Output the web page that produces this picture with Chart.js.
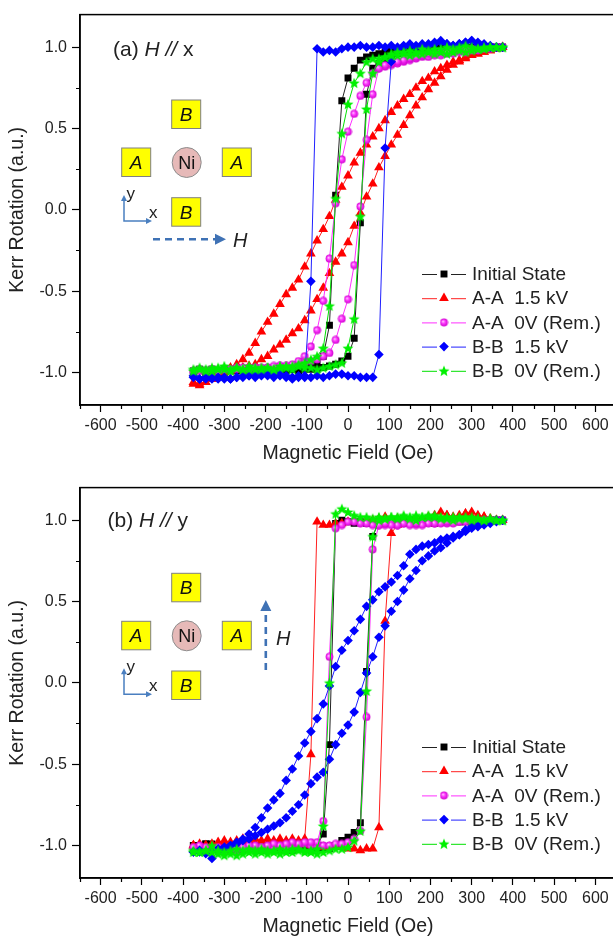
<!DOCTYPE html>
<html>
<head>
<meta charset="utf-8">
<script src="https://cdn.jsdelivr.net/npm/chart.js@4.4.1/dist/chart.umd.min.js"></script>
<style>
html, body { margin: 0; padding: 0; background: #fff; overflow: hidden; width: 613px; height: 943px; }
.panel { position: absolute; left: 0; width: 640px; height: 470px; }
#overlay { position: absolute; left: 0; top: 0; }
</style>
</head>
<body>
<div class="panel" style="top:0"><canvas id="chartA" width="640" height="470"></canvas></div>
<div class="panel" style="top:473px"><canvas id="chartB" width="640" height="470"></canvas></div>

<svg id="overlay" width="613" height="943" font-family="Liberation Sans, Arial, sans-serif">
  <!-- panel (a) schematic -->
  <text x="113" y="55.5" font-size="21" fill="#222">(a) <tspan font-style="italic">H //</tspan> x</text>
  <rect x="171.7" y="100" width="29" height="28.5" fill="#ffff00" stroke="#808080" stroke-width="1"/>
  <text x="186.2" y="121" font-size="19" font-style="italic" text-anchor="middle" fill="#111">B</text>
  <rect x="121.7" y="148" width="29" height="28.5" fill="#ffff00" stroke="#808080" stroke-width="1"/>
  <text x="136.2" y="169" font-size="19" font-style="italic" text-anchor="middle" fill="#111">A</text>
  <ellipse cx="186.7" cy="162.5" rx="14.5" ry="15" fill="#e6b9b8" stroke="#8c8c8c" stroke-width="1"/>
  <text x="186.7" y="169" font-size="18" text-anchor="middle" fill="#111">Ni</text>
  <rect x="222.3" y="148" width="29" height="28.5" fill="#ffff00" stroke="#808080" stroke-width="1"/>
  <text x="236.8" y="169" font-size="19" font-style="italic" text-anchor="middle" fill="#111">A</text>
  <rect x="171.7" y="197.7" width="29" height="28.5" fill="#ffff00" stroke="#808080" stroke-width="1"/>
  <text x="186.2" y="218.7" font-size="19" font-style="italic" text-anchor="middle" fill="#111">B</text>
  <polyline points="124,200 124,221 146,221" fill="none" stroke="#4a7fc0" stroke-width="1.5"/>
  <polygon points="121,201 124,195 127,201" fill="#4a7fc0"/>
  <polygon points="146,218 152,221 146,224" fill="#4a7fc0"/>
  <text x="126.5" y="199" font-size="17" fill="#222">y</text>
  <text x="149" y="218" font-size="17" fill="#222">x</text>
  <line x1="153" y1="239.3" x2="216" y2="239.3" stroke="#3f72b5" stroke-width="2.6" stroke-dasharray="7 5"/>
  <polygon points="215,233.8 226,239.3 215,244.8" fill="#3f72b5"/>
  <text x="233" y="246.7" font-size="20" font-style="italic" fill="#222">H</text>

  <!-- panel (b) schematic -->
  <text x="107.5" y="527" font-size="21" fill="#222">(b) <tspan font-style="italic">H //</tspan> y</text>
  <rect x="171.7" y="573.3" width="29" height="28.5" fill="#ffff00" stroke="#808080" stroke-width="1"/>
  <text x="186.2" y="594.3" font-size="19" font-style="italic" text-anchor="middle" fill="#111">B</text>
  <rect x="121.7" y="621.3" width="29" height="28.5" fill="#ffff00" stroke="#808080" stroke-width="1"/>
  <text x="136.2" y="642.3" font-size="19" font-style="italic" text-anchor="middle" fill="#111">A</text>
  <ellipse cx="186.7" cy="635.8" rx="14.5" ry="15" fill="#e6b9b8" stroke="#8c8c8c" stroke-width="1"/>
  <text x="186.7" y="642.3" font-size="18" text-anchor="middle" fill="#111">Ni</text>
  <rect x="222.3" y="621.3" width="29" height="28.5" fill="#ffff00" stroke="#808080" stroke-width="1"/>
  <text x="236.8" y="642.3" font-size="19" font-style="italic" text-anchor="middle" fill="#111">A</text>
  <rect x="171.7" y="671" width="29" height="28.5" fill="#ffff00" stroke="#808080" stroke-width="1"/>
  <text x="186.2" y="692" font-size="19" font-style="italic" text-anchor="middle" fill="#111">B</text>
  <polyline points="124,673.3 124,694.3 146,694.3" fill="none" stroke="#4a7fc0" stroke-width="1.5"/>
  <polygon points="121,674.3 124,668.3 127,674.3" fill="#4a7fc0"/>
  <polygon points="146,691.3 152,694.3 146,697.3" fill="#4a7fc0"/>
  <text x="126.5" y="672.3" font-size="17" fill="#222">y</text>
  <text x="149" y="691.3" font-size="17" fill="#222">x</text>
  <line x1="265.8" y1="670" x2="265.8" y2="610" stroke="#3f72b5" stroke-width="2.6" stroke-dasharray="7 5"/>
  <polygon points="260.3,611 265.8,600 271.3,611" fill="#3f72b5"/>
  <text x="276" y="645" font-size="20" font-style="italic" fill="#222">H</text>
</svg>

<script>
// applied field grid (Oe), shared by every branch
const field = [-375,-360,-345,-330,-315,-300,-285,-270,-255,-240,
  -225,-210,-195,-180,-165,-150,-135,-120,-105,-90,
  -75,-60,-45,-30,-15,0,15,30,45,60,
  75,90,105,120,135,150,165,180,195,210,
  225,240,255,270,285,300,315,330,345,360,375];

const seriesNames = ['Initial State', 'A-A  1.5 kV', 'A-A  0V (Rem.)', 'B-B  1.5 kV', 'B-B  0V (Rem.)'];

const xTicks = [-600,-500,-400,-300,-200,-100,0,100,200,300,400,500,600];
const xMinorTicks = [-650,-550,-450,-350,-250,-150,-50,50,150,250,350,450,550,650];
const yTicks = [-1.0,-0.5,0.0,0.5,1.0];
const yMinorTicks = [-0.75,-0.25,0.25,0.75];

// ---- panel (a) H // x : "up" = field sweeping up, "down" = field sweeping down (both listed along field[])
const aInitialUp = [-0.99,-0.98,-0.99,-0.98,-0.99,-0.98,-0.99,-0.98,-0.98,-0.99,
  -0.98,-0.99,-0.98,-0.98,-0.99,-0.98,-0.98,-0.99,-0.98,-0.98,
  -0.98,-0.97,-0.96,-0.95,-0.93,-0.90,-0.79,-0.08,0.71,0.87,
  0.90,0.93,0.95,0.96,0.97,0.98,0.98,0.99,0.99,0.99,
  0.99,1.00,0.99,1.00,1.00,0.99,1.00,1.00,1.00,1.00,1.00];
const aInitialDown = [-1.00,-0.99,-1.00,-0.99,-0.99,-1.00,-0.99,-0.99,-0.98,-0.99,
  -0.99,-0.98,-0.99,-0.98,-0.98,-0.99,-0.98,-0.98,-0.97,-0.97,
  -0.95,-0.90,-0.71,0.09,0.67,0.81,0.87,0.92,0.94,0.95,
  0.96,0.97,0.98,0.98,0.99,0.99,0.99,1.00,0.99,1.00,
  1.00,1.00,0.99,1.00,1.00,1.00,0.99,1.00,1.00,1.00,1.00];
const aAA15Up = [-1.06,-1.07,-1.06,-1.04,-1.02,-1.00,-0.99,-0.98,-0.97,-0.96,
  -0.95,-0.92,-0.90,-0.86,-0.83,-0.80,-0.76,-0.73,-0.68,-0.62,
  -0.55,-0.48,-0.39,-0.32,-0.27,-0.20,-0.10,-0.02,0.08,0.16,
  0.26,0.33,0.40,0.46,0.52,0.58,0.64,0.69,0.74,0.78,
  0.82,0.86,0.89,0.91,0.93,0.95,0.96,0.97,0.98,0.99,1.00];
const aAA15Down = [-1.07,-1.08,-1.06,-1.04,-1.02,-0.99,-0.97,-0.95,-0.92,-0.88,
  -0.82,-0.75,-0.69,-0.64,-0.58,-0.52,-0.48,-0.43,-0.35,-0.27,
  -0.19,-0.12,-0.04,0.06,0.14,0.21,0.29,0.35,0.40,0.45,
  0.50,0.55,0.60,0.64,0.68,0.71,0.75,0.79,0.81,0.85,
  0.87,0.89,0.91,0.92,0.94,0.95,0.96,0.97,0.98,0.99,1.00];
const aAA0Up = [-0.99,-0.98,-0.99,-0.98,-0.99,-0.98,-0.98,-0.97,-0.98,-0.97,
  -0.97,-0.98,-0.97,-0.97,-0.96,-0.96,-0.96,-0.95,-0.94,-0.93,
  -0.92,-0.90,-0.88,-0.80,-0.67,-0.55,-0.34,0.02,0.43,0.71,
  0.87,0.88,0.89,0.90,0.91,0.92,0.93,0.94,0.94,0.95,
  0.95,0.96,0.96,0.97,0.97,0.98,0.98,0.99,0.99,1.00,1.00];
const aAA0Down = [-1.00,-0.99,-0.99,-0.98,-0.99,-0.98,-0.98,-0.98,-0.97,-0.98,
  -0.97,-0.97,-0.97,-0.96,-0.96,-0.96,-0.95,-0.93,-0.90,-0.84,
  -0.74,-0.56,-0.30,0.04,0.31,0.48,0.59,0.70,0.78,0.84,
  0.87,0.89,0.90,0.91,0.92,0.93,0.94,0.95,0.96,0.96,
  0.97,0.97,0.98,0.98,0.99,0.99,0.99,1.00,1.00,1.00,1.00];
const aBB15Up = [-1.02,-1.04,-1.03,-1.04,-1.03,-1.04,-1.04,-1.03,-1.02,-1.02,
  -1.01,-1.00,-1.01,-1.00,-1.01,-1.02,-1.03,-1.02,-1.02,-1.03,
  -1.02,-1.03,-1.02,-1.01,-1.01,-1.02,-1.02,-1.03,-1.03,-1.03,
  -0.89,0.38,0.91,0.99,1.00,1.01,1.00,1.02,1.01,1.02,
  1.03,1.02,1.01,1.02,1.03,1.04,1.02,1.01,1.00,1.00,1.00];
const aBB15Down = [-1.03,-1.04,-1.04,-1.03,-1.04,-1.03,-1.04,-1.03,-1.03,-1.02,
  -1.03,-1.02,-1.02,-1.03,-1.02,-1.03,-1.04,-1.03,-1.03,-0.44,
  0.99,0.97,0.98,0.97,0.99,1.00,1.00,1.01,1.00,1.00,
  1.01,1.00,1.01,1.00,1.01,1.02,1.01,1.00,1.02,1.03,
  1.04,1.02,1.01,1.02,1.03,1.04,1.03,1.02,1.01,1.00,1.00];
const aBB0Up = [-0.98,-0.97,-0.99,-0.97,-0.98,-0.96,-0.98,-0.97,-0.98,-0.96,
  -0.98,-0.97,-0.97,-0.98,-0.96,-0.97,-0.98,-0.96,-0.97,-0.97,
  -0.98,-0.97,-0.96,-0.95,-0.94,-0.85,-0.67,-0.04,0.62,0.84,
  0.91,0.94,0.96,0.97,0.97,0.98,0.97,0.99,0.98,0.99,
  0.99,1.00,0.99,1.00,1.01,1.00,0.99,1.00,1.00,1.00,1.00];
const aBB0Down = [-0.99,-0.98,-0.98,-0.99,-0.97,-0.98,-0.99,-0.97,-0.98,-0.98,
  -0.97,-0.98,-0.97,-0.98,-0.97,-0.96,-0.96,-0.95,-0.94,-0.92,
  -0.90,-0.85,-0.59,0.07,0.47,0.65,0.78,0.84,0.91,0.93,
  0.93,0.94,0.95,0.95,0.96,0.95,0.96,0.96,0.97,0.96,
  0.97,0.96,0.97,0.98,0.97,0.98,0.99,0.99,1.00,1.00,1.00];

// ---- panel (b) H // y
const bInitialUp = [-1.00,-1.01,-0.99,-1.00,-1.02,-1.02,-1.03,-1.02,-1.03,-1.02,
  -1.02,-1.03,-1.02,-1.02,-1.03,-1.02,-1.03,-1.02,-1.02,-1.03,
  -1.02,-1.02,-1.02,-1.00,-0.97,-0.95,-0.92,-0.86,0.07,0.90,
  0.99,1.00,0.99,1.00,1.01,1.00,0.99,1.00,1.01,1.00,
  1.00,0.99,1.00,1.01,1.00,1.00,0.99,1.00,1.00,1.00,1.00];
const bInitialDown = [-1.00,-1.00,-0.99,-0.99,-1.00,-1.01,-1.00,-1.01,-1.00,-1.01,
  -1.01,-1.00,-1.01,-1.01,-1.00,-1.01,-1.02,-1.01,-1.01,-1.00,
  -1.00,-0.93,-0.38,0.98,1.00,0.99,0.98,0.99,0.98,0.99,
  0.98,0.99,0.98,0.98,0.99,0.99,0.98,0.99,0.99,0.98,
  0.99,0.99,1.00,0.99,0.99,1.00,1.00,0.99,1.00,1.00,1.00];
const bAA15Up = [-1.00,-1.01,-1.00,-1.02,-1.01,-1.00,-0.99,-1.00,-0.99,-1.00,
  -0.99,-1.00,-0.99,-0.98,-0.99,-0.98,-0.99,-0.98,-0.99,-1.00,
  -1.00,-1.01,-1.01,-1.01,-1.01,-1.02,-1.02,-1.03,-1.02,-1.02,
  -0.89,0.38,0.92,0.97,0.98,0.98,0.99,0.98,0.99,0.98,
  1.00,1.03,1.01,1.02,1.04,1.02,1.01,1.02,1.00,1.00,1.00];
const bAA15Down = [-1.00,-0.99,-1.00,-0.99,-0.98,-0.97,-0.98,-0.97,-0.96,-0.97,
  -0.96,-0.97,-0.96,-0.97,-0.96,-0.97,-0.96,-0.97,-0.96,-0.44,
  0.99,0.97,0.97,0.98,0.98,0.99,1.00,0.99,1.00,1.00,
  1.01,1.02,1.00,1.01,1.00,0.99,1.01,1.00,1.02,1.03,
  1.05,1.03,1.02,1.03,1.04,1.05,1.03,1.02,1.01,1.00,1.00];
const bAA0Up = [-1.02,-1.02,-1.03,-1.02,-1.03,-1.03,-1.02,-1.03,-1.02,-1.02,
  -1.02,-1.01,-1.02,-1.01,-1.00,-1.01,-1.00,-1.00,-0.99,-1.00,
  -1.00,-1.00,-1.00,-0.99,-0.99,-0.98,-0.96,-0.91,-0.21,0.82,
  0.97,0.97,0.98,0.97,0.98,0.98,0.97,0.98,0.99,0.98,
  0.99,0.98,0.99,0.99,1.00,0.99,0.99,1.00,1.00,1.00,1.00];
const bAA0Down = [-1.01,-1.00,-1.01,-1.02,-1.01,-1.02,-1.01,-1.02,-1.01,-1.00,
  -1.00,-1.01,-1.00,-0.99,-1.00,-0.99,-0.98,-0.99,-0.98,-0.98,
  -0.98,-0.85,0.16,0.95,0.97,0.99,0.99,0.98,0.98,0.97,
  0.97,0.98,0.97,0.97,0.98,0.97,0.98,0.97,0.98,0.98,
  0.98,0.99,0.98,0.99,0.99,0.98,0.99,0.99,1.00,1.00,1.00];
const bBB15Up = [-1.04,-1.03,-1.05,-1.08,-1.04,-1.02,-1.00,-0.99,-0.97,-0.96,
  -0.94,-0.92,-0.90,-0.88,-0.86,-0.83,-0.79,-0.75,-0.69,-0.62,
  -0.58,-0.55,-0.47,-0.38,-0.31,-0.26,-0.18,-0.06,0.06,0.16,
  0.28,0.35,0.44,0.50,0.57,0.64,0.69,0.75,0.78,0.81,
  0.83,0.86,0.89,0.91,0.94,0.96,0.97,0.98,0.99,1.00,1.00];
const bBB15Down = [-1.04,-1.04,-1.04,-1.03,-1.02,-1.01,-1.00,-0.98,-0.96,-0.93,
  -0.89,-0.83,-0.77,-0.72,-0.68,-0.60,-0.53,-0.45,-0.37,-0.30,
  -0.22,-0.13,-0.02,0.10,0.20,0.26,0.32,0.39,0.47,0.51,
  0.56,0.59,0.62,0.66,0.72,0.79,0.82,0.84,0.85,0.86,
  0.88,0.89,0.90,0.91,0.93,0.95,0.96,0.97,0.98,0.99,1.00];
const bBB0Up = [-1.04,-1.04,-1.03,-1.00,-1.05,-1.06,-1.05,-1.06,-1.05,-1.04,
  -1.05,-1.04,-1.05,-1.04,-1.05,-1.04,-1.04,-1.03,-1.04,-1.04,
  -1.05,-1.04,-1.03,-1.02,-1.02,-1.01,-0.97,-0.91,-0.05,0.90,
  1.00,1.01,1.02,1.01,1.02,1.01,1.00,1.02,1.03,1.02,
  1.01,1.02,1.00,1.01,1.02,1.00,1.01,1.00,1.01,1.00,1.00];
const bBB0Down = [-1.03,-1.04,-1.03,-1.04,-1.03,-1.04,-1.03,-1.02,-1.03,-1.02,
  -1.03,-1.02,-1.03,-1.03,-1.02,-1.03,-1.02,-1.02,-1.03,-1.03,
  -1.02,-0.88,0.00,1.04,1.07,1.05,1.03,1.02,1.02,1.01,
  1.02,1.01,1.02,1.02,1.03,1.02,1.03,1.02,1.02,1.03,
  1.02,1.01,1.02,1.02,1.01,1.02,1.01,1.00,1.01,1.00,1.00];

const panelA = [[aInitialUp, aInitialDown], [aAA15Up, aAA15Down], [aAA0Up, aAA0Down], [aBB15Up, aBB15Down], [aBB0Up, aBB0Down]];
const panelB = [[bInitialUp, bInitialDown], [bAA15Up, bAA15Down], [bAA0Up, bAA0Down], [bBB15Up, bBB15Down], [bBB0Up, bBB0Down]];

const FONT = '"Liberation Sans", Arial, sans-serif';
Chart.defaults.font.family = FONT;

// marker images for the star and the shaded ball
function starImage(color, r) {
    var c = document.createElement('canvas');
    var s = Math.ceil(r * 2 + 2);
    c.width = s; c.height = s;
    var g = c.getContext('2d');
    g.translate(s / 2, s / 2 + 0.5);
    g.beginPath();
    for (var k = 0; k < 10; k++) {
        var rr = k % 2 ? r * 0.45 : r;
        var a = -Math.PI / 2 + k * Math.PI / 5;
        g.lineTo(rr * Math.cos(a), rr * Math.sin(a));
    }
    g.closePath();
    g.fillStyle = color;
    g.fill();
    return c;
}
function ballImage(r) {
    var c = document.createElement('canvas');
    var s = Math.ceil(r * 2 + 1);
    c.width = s; c.height = s;
    var g = c.getContext('2d');
    var grad = g.createRadialGradient(s / 2 - r * 0.3, s / 2 - r * 0.3, 0, s / 2, s / 2, r);
    grad.addColorStop(0, '#ffd9ff');
    grad.addColorStop(0.45, '#ff40ff');
    grad.addColorStop(1, '#d000d0');
    g.beginPath();
    g.arc(s / 2, s / 2, r, 0, Math.PI * 2);
    g.fillStyle = grad;
    g.fill();
    return c;
}

var styles = [
    { color: '#000000', line: '#222222', point: 'rect', radius: 4.9 },
    { color: '#ff0000', line: '#ff2020', point: 'triangle', radius: 5.6 },
    { color: '#ff00ff', line: '#ff30ff', point: ballImage(3.9), radius: 3.9 },
    { color: '#0000ff', line: '#2020ff', point: 'rectRot', radius: 4.8 },
    { color: '#00ff00', line: '#00e000', point: starImage('#00f000', 5.8), radius: 5.8 }
];

function loopPoints(up, down) {
    var pts = field.map(function (h, i) { return { x: h, y: up[i] }; });
    var back = field.map(function (h, i) { return { x: h, y: down[i] }; }).reverse();
    return pts.concat(back);
}

function drawMarker(ctx, st, x, y) {
    ctx.save();
    ctx.fillStyle = st.color;
    if (typeof st.point !== 'string') {
        ctx.drawImage(st.point, x - st.point.width / 2, y - st.point.height / 2);
    } else if (st.point === 'rect') {
        var s = st.radius * Math.SQRT1_2;
        ctx.fillRect(x - s, y - s, 2 * s, 2 * s);
    } else if (st.point === 'triangle') {
        var r = st.radius;
        ctx.beginPath();
        ctx.moveTo(x, y - r);
        ctx.lineTo(x + r * 0.866, y + r * 0.5);
        ctx.lineTo(x - r * 0.866, y + r * 0.5);
        ctx.closePath();
        ctx.fill();
    } else if (st.point === 'rectRot') {
        var d = st.radius;
        ctx.beginPath();
        ctx.moveTo(x - d, y); ctx.lineTo(x, y - d); ctx.lineTo(x + d, y); ctx.lineTo(x, y + d);
        ctx.closePath();
        ctx.fill();
    }
    ctx.restore();
}

// frame box, minor ticks and the in-plot legend
var decorPlugin = {
    id: 'decor',
    afterDraw: function (chart) {
        var ctx = chart.ctx;
        var a = chart.chartArea;
        ctx.save();
        ctx.strokeStyle = '#000';
        ctx.lineWidth = 1.5;
        ctx.strokeRect(a.left, a.top, a.right - a.left, a.bottom - a.top);
        ctx.lineWidth = 1.2;
        ctx.beginPath();
        xMinorTicks.forEach(function (v) {
            var px = Math.round(chart.scales.x.getPixelForValue(v)) + 0.5;
            ctx.moveTo(px, a.bottom); ctx.lineTo(px, a.bottom + 4);
        });
        yMinorTicks.forEach(function (v) {
            var py = Math.round(chart.scales.y.getPixelForValue(v)) + 0.5;
            ctx.moveTo(a.left - 4, py); ctx.lineTo(a.left, py);
        });
        ctx.stroke();

        ctx.font = '19px ' + FONT;
        ctx.textBaseline = 'middle';
        ctx.fillStyle = '#222';
        seriesNames.forEach(function (name, i) {
            var y = 274 + i * 24.2;
            var st = styles[i];
            ctx.strokeStyle = st.line;
            ctx.lineWidth = 1;
            ctx.beginPath();
            ctx.moveTo(422, y + 0.5); ctx.lineTo(437, y + 0.5);
            ctx.moveTo(451, y + 0.5); ctx.lineTo(466, y + 0.5);
            ctx.stroke();
            drawMarker(ctx, st, 444, y);
            ctx.fillText(name, 472, y + 1);
        });
        ctx.restore();
    }
};

function makeChart(id, series) {
    return new Chart(document.getElementById(id), {
        type: 'scatter',
        data: {
            datasets: series.map(function (s, i) {
                var st = styles[i];
                return {
                    label: seriesNames[i],
                    data: loopPoints(s[0], s[1]),
                    showLine: true,
                    tension: 0,
                    borderColor: st.line,
                    borderWidth: 1,
                    pointStyle: st.point,
                    pointRadius: st.radius,
                    pointBackgroundColor: st.color,
                    pointBorderColor: st.color,
                    pointBorderWidth: 0,
                    order: 5 - i
                };
            })
        },
        options: {
            responsive: false,
            animation: false,
            devicePixelRatio: 1,
            layout: { padding: { top: 7.5, right: 24, bottom: 0, left: 0 } },
            plugins: { legend: { display: false }, tooltip: { enabled: false } },
            scales: {
                x: {
                    type: 'linear',
                    min: -650,
                    max: 650,
                    afterBuildTicks: function (scale) {
                        scale.ticks = xTicks.map(function (v) { return { value: v }; });
                    },
                    afterFit: function (scale) { scale.height = 65; },
                    ticks: {
                        autoSkip: false, maxRotation: 0, padding: 4,
                        color: '#222', font: { size: 16 },
                        callback: function (v) { return String(v); }
                    },
                    grid: { drawOnChartArea: false, drawTicks: true, tickLength: 7, color: '#000', tickWidth: 1.2 },
                    border: { display: true, color: '#000', width: 1.5 },
                    title: {
                        display: true, text: 'Magnetic Field (Oe)', color: '#222',
                        font: { size: 19.5 }, padding: { top: 0, bottom: 5 }
                    }
                },
                y: {
                    type: 'linear',
                    min: -1.2,
                    max: 1.2,
                    afterBuildTicks: function (scale) {
                        scale.ticks = yTicks.map(function (v) { return { value: v }; });
                    },
                    afterFit: function (scale) { scale.width = 80; },
                    ticks: {
                        padding: 5, color: '#222', font: { size: 16 },
                        callback: function (v) { return Number(v).toFixed(1); }
                    },
                    grid: { drawOnChartArea: false, drawTicks: true, tickLength: 8, color: '#000', tickWidth: 1.2 },
                    border: { display: true, color: '#000', width: 1.5 },
                    title: {
                        display: true, text: 'Kerr Rotation (a.u.)', color: '#222',
                        font: { size: 19.5 }, padding: { top: 6, bottom: 0 }
                    }
                }
            }
        },
        plugins: [decorPlugin]
    });
}

makeChart('chartA', panelA);
makeChart('chartB', panelB);
</script>
</body>
</html>
